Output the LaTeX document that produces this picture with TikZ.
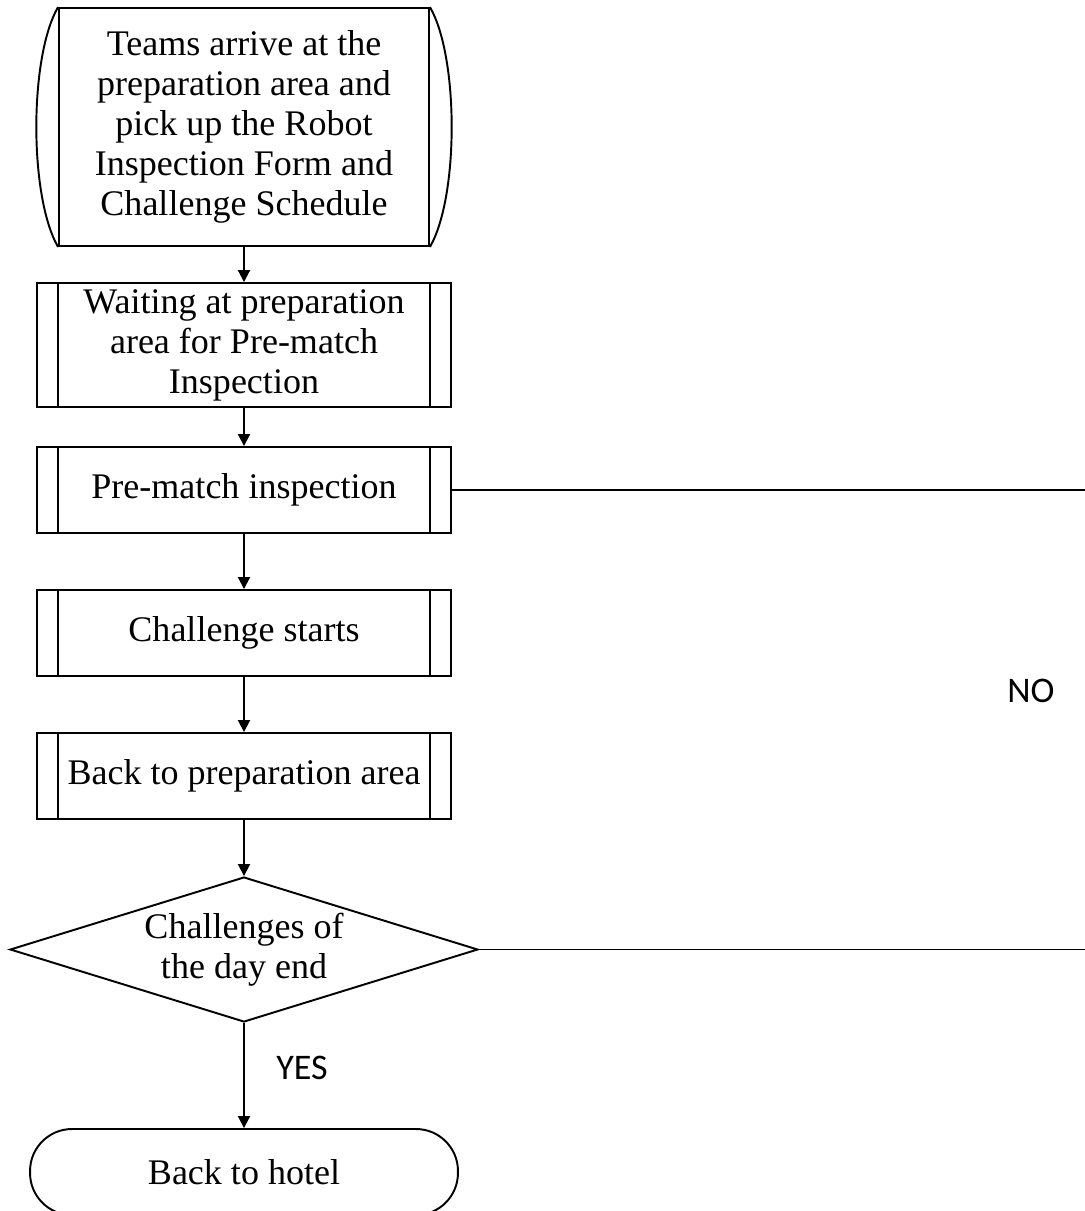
\documentclass[tikz,border=0pt]{standalone}
\usepackage{fontspec}
\setmainfont{Liberation Serif}
\newfontfamily\labelfont{Carlito}
\usetikzlibrary{arrows.meta, shapes.geometric}

\tikzset{
    every node/.style={font=\fontsize{20.5}{22.8}\selectfont},
    startbox/.style={draw, rectangle, line width=1.1pt, align=center, inner sep=0pt,
        minimum width=7.4cm, minimum height=4.76cm},
    procbox/.style={draw, rectangle, line width=1.1pt, align=center, inner sep=0pt,
        minimum width=8.28cm,
        path picture={
            \draw[line width=1.1pt] ([xshift=0.42cm]path picture bounding box.north west) -- ([xshift=0.42cm]path picture bounding box.south west);
            \draw[line width=1.1pt] ([xshift=-0.42cm]path picture bounding box.north east) -- ([xshift=-0.42cm]path picture bounding box.south east);
        }},
    decbox/.style={draw, diamond, line width=1.1pt, align=center, inner sep=0pt, aspect=3.2,
        minimum width=9.36cm, minimum height=2.9cm},
    termbox/.style={draw, rectangle, rounded corners=0.84cm, line width=1.1pt, align=center,
        minimum width=8.56cm, minimum height=1.72cm},
    answer/.style={font=\labelfont\fontsize{20.5}{22.8}\selectfont, inner sep=0pt},
    flowline/.style={line width=1.1pt, -{Triangle[length=0.24cm, width=0.24cm]}}
}

\begin{document}
\begin{tikzpicture}[x=0.02cm, y=-0.02cm]
        \useasboundingbox (0,0) rectangle (1085,1211);
        \node (A) at (244,127) [startbox] {Teams arrive at the\\preparation area and\\pick up the Robot\\Inspection Form and\\Challenge Schedule};
        \draw[line width=1.1pt] (A.north west) .. controls +(-29,50) and +(-29,-50) .. (A.south west);
        \draw[line width=1.1pt] (A.north east) .. controls +(29,50) and +(29,-50) .. (A.south east);
        \node (B) at (244,345) [procbox, minimum height=2.48cm] {Waiting at preparation\\area for Pre-match\\Inspection};
        \node (C) at (244,490) [procbox, minimum height=1.72cm] {Pre-match inspection};
        \node (D) at (244,633) [procbox, minimum height=1.72cm] {Challenge starts};
        \node (E) at (244,776) [procbox, minimum height=1.72cm] {Back to preparation area};
        \node (F) at (244,949.5) [decbox] {Challenges of\\the day end};
        \node (G) at (244,1172) [termbox] {Back to hotel};
        \coordinate (C1) at (1085,490);
        \coordinate (F1) at (1085,949.5);
        \node (no) at (1031,691) [answer] {NO};
        \node (yes) at (302,1068) [answer] {YES};
        \draw[flowline] (A) -- (B);
        \draw[flowline] (B) -- (C);
        \draw[flowline] (C) -- (D);
        \draw[flowline] (D) -- (E);
        \draw[flowline] (E) -- (F);
        \draw[flowline] (F) -- (G);
        \draw[line width=1.1pt] (C.east) -- (C1);
        \draw[line width=1.1pt] (F.east) -- (F1);

    \end{tikzpicture}
\end{document}
